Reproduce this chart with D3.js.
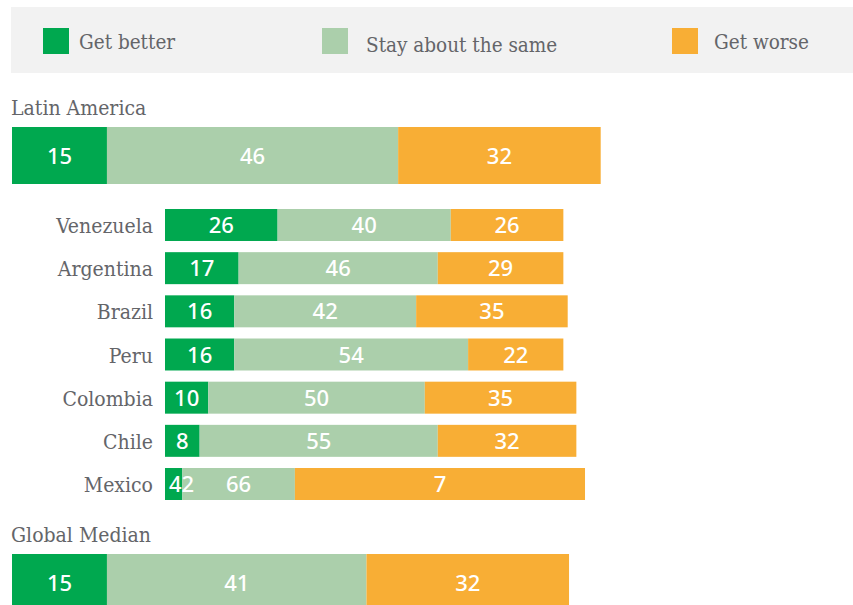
<!DOCTYPE html>
<html>
<head>
<meta charset="utf-8">
<script src="https://cdn.jsdelivr.net/npm/d3@7"></script>
<style>
  html, body { margin: 0; padding: 0; background: #fff; }
  svg { display: block; }
</style>
</head>
<body>
<svg id="chart" width="853" height="605"></svg>
<script>
// Legend / series
const seriesNames = ["Get better", "Stay about the same", "Get worse"];
const seriesColors = ["#00a84f", "#abcfab", "#f8ae35"];

// Summary rows (wide bars)
const regions = ["Latin America", "Global Median"];
const regionBetter = [15, 15];
const regionStay = [46, 41];
const regionWorse = [32, 32];

// Country rows
const countries = ["Venezuela", "Argentina", "Brazil", "Peru", "Colombia", "Chile", "Mexico"];
const better = [26, 17, 16, 16, 10, 8, 4];
const stay = [40, 46, 42, 54, 50, 55, 26];
const worse = [26, 29, 35, 22, 35, 32, 67];
// printed labels (Mexico's labels differ from its bar lengths in the original)
const betterLabels = ["26", "17", "16", "16", "10", "8", "42"];
const stayLabels = ["40", "46", "42", "54", "50", "55", "66"];
const worseLabels = ["26", "29", "35", "22", "35", "32", "7"];

const svg = d3.select("#chart");
const labelFont = "'DejaVu Serif Condensed', 'DejaVu Serif', serif";
const valueFont = "'Noto Sans', sans-serif";
const grey = "#646569";

// Legend
svg.append("rect")
  .attr("x", 11).attr("y", 7)
  .attr("width", 842).attr("height", 66)
  .attr("fill", "#f2f2f2");

const legendX = [43, 322, 672];
const legendTextX = [79, 366, 714];
const legendTextY = [49, 52, 49];
const legend = svg.selectAll("g.legend")
  .data(seriesNames)
  .join("g")
  .attr("class", "legend");
legend.append("rect")
  .attr("x", (d, i) => legendX[i]).attr("y", 28)
  .attr("width", 26).attr("height", 26)
  .attr("fill", (d, i) => seriesColors[i]);
legend.append("text")
  .attr("x", (d, i) => legendTextX[i])
  .attr("y", (d, i) => legendTextY[i])
  .attr("font-family", labelFont)
  .attr("font-size", 20.5)
  .attr("fill", grey)
  .text(d => d);

// Scales
const xBig = d3.scaleLinear().domain([0, 100]).range([12, 645]);
const xSmall = d3.scaleLinear().domain([0, 100]).range([165, 598]);
const yCountry = d3.scaleBand()
  .domain(countries)
  .range([209, 500])
  .paddingInner(0.259)
  .paddingOuter(0);

function segments(vals, labels) {
  let acc = 0;
  return vals.map((v, i) => {
    const s = { x0: acc, x1: acc + v, label: labels[i], color: seriesColors[i] };
    acc += v;
    return s;
  });
}

function drawBar(g, segs, x, y, h) {
  g.selectAll("rect")
    .data(segs)
    .join("rect")
    .attr("x", d => x(d.x0))
    .attr("y", y)
    .attr("width", d => x(d.x1) - x(d.x0))
    .attr("height", h)
    .attr("fill", d => d.color);

  g.selectAll("text")
    .data(segs)
    .join("text")
    .attr("font-family", valueFont)
    .attr("font-size", 22)
    .attr("font-weight", 500)
    .attr("fill", "#fff")
    .attr("y", y + h / 2 + 8)
    .each(function(d) {
      const w = x(d.x1) - x(d.x0);
      const t = d3.select(this).text(d.label);
      const tw = this.getComputedTextLength();
      if (tw > w - 4) {
        t.attr("x", x(d.x0) + 4).attr("text-anchor", "start");
      } else {
        t.attr("x", (x(d.x0) + x(d.x1)) / 2).attr("text-anchor", "middle");
      }
    });
}

// Region rows
const regionLabelY = [115, 542];
const regionBarY = [127, 554];
regions.forEach((r, i) => {
  svg.append("text")
    .attr("x", 11)
    .attr("y", regionLabelY[i])
    .attr("font-family", labelFont)
    .attr("font-size", 21)
    .attr("fill", grey)
    .text(r);
  const vals = [regionBetter[i], regionStay[i], regionWorse[i]];
  drawBar(svg.append("g"), segments(vals, vals.map(String)), xBig, regionBarY[i], 57);
});

// Country rows
countries.forEach((c, i) => {
  const y = yCountry(c);
  const h = yCountry.bandwidth();
  svg.append("text")
    .attr("x", 153)
    .attr("y", y + h / 2 + 8)
    .attr("text-anchor", "end")
    .attr("font-family", labelFont)
    .attr("font-size", 21)
    .attr("fill", grey)
    .text(c);
  drawBar(svg.append("g"),
    segments([better[i], stay[i], worse[i]], [betterLabels[i], stayLabels[i], worseLabels[i]]),
    xSmall, y, h);
});
</script>
</body>
</html>
